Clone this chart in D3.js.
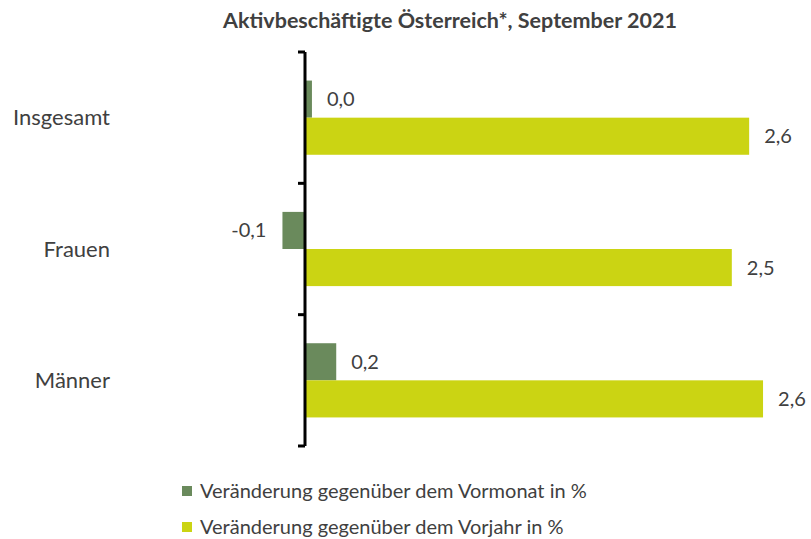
<!DOCTYPE html>
<html>
<head>
<meta charset="utf-8">
<script src="https://cdn.jsdelivr.net/npm/d3@7"></script>
<style>
  body { margin: 0; background: #fff; }
  text { font-family: Lato, "Open Sans", sans-serif; fill: #404040; }
</style>
</head>
<body>
<div id="chart"></div>
<script>
// Data
const categories = ["Insgesamt", "Frauen", "Männer"];
const seriesNames = ["Veränderung gegenüber dem Vormonat in %", "Veränderung gegenüber dem Vorjahr in %"];
const vormonat = [0.04, -0.13, 0.18];
const vorjahr = [2.56, 2.46, 2.64];
const seriesColors = ["#6a8a5c", "#cbd413"];

const width = 811, height = 539;

const svg = d3.select("#chart")
    .append("svg")
    .attr("width", width)
    .attr("height", height);

// build rows for the bars
const rows = categories.map((c, i) => ({cat: c, values: [vormonat[i], vorjahr[i]]}));

/* scales */
const xScale = d3.scaleLinear()
    .domain([-0.2, 2.8])
    .range([305 - 0.2 * 173.5, 305 + 2.8 * 173.5]);

const yScale = d3.scaleBand()
    .domain(categories)
    .range([52, 446])
    .paddingInner(0.435)
    .paddingOuter(0.2175);

const ySub = d3.scaleBand()
    .domain([0, 1])
    .range([0, yScale.bandwidth()]);

const fmt = v => d3.format(".1f")(v).replace(".", ",").replace("−", "-");

// Title
svg.append("text")
    .attr("x", 450)
    .attr("y", 28)
    .attr("text-anchor", "middle")
    .style("font-size", "21.5px")
    .style("font-weight", "bold")
    .text("Aktivbeschäftigte Österreich*, September 2021");

// bars
const groups = svg.append("g")
    .selectAll("g")
    .data(rows)
    .join("g")
    .attr("transform", d => `translate(0,${yScale(d.cat)})`);

groups.selectAll("rect")
    .data(d => d.values.map((v, j) => ({v, j})))
    .join("rect")
    .attr("x", d => xScale(Math.min(0, d.v)))
    .attr("y", d => ySub(d.j))
    .attr("width", d => Math.abs(xScale(d.v) - xScale(0)))
    .attr("height", ySub.bandwidth())
    .attr("fill", d => seriesColors[d.j]);

// value labels
groups.selectAll("text")
    .data(d => d.values.map((v, j) => ({v, j})))
    .join("text")
    .attr("x", d => d.v < 0 ? xScale(d.v) - 16 : xScale(d.v) + 15)
    .attr("y", d => ySub(d.j) + ySub.bandwidth() / 2)
    .attr("dy", "0.35em")
    .attr("text-anchor", d => d.v < 0 ? "end" : "start")
    .style("font-size", "20px")
    .text(d => fmt(d.v));

// category axis (ticks sit between the categories)
const boundaries = categories.map(c => yScale(c) - yScale.step() * yScale.paddingInner() / 2);
boundaries.push(yScale(categories[categories.length - 1]) + yScale.bandwidth() + yScale.step() * yScale.paddingInner() / 2);

const axis = svg.append("g");
axis.append("line")
    .attr("x1", xScale(0)).attr("x2", xScale(0))
    .attr("y1", boundaries[0]).attr("y2", boundaries[boundaries.length - 1])
    .attr("stroke", "#000")
    .attr("stroke-width", 3);
axis.selectAll("line.tick")
    .data(boundaries)
    .join("line")
    .attr("class", "tick")
    .attr("x1", xScale(0) - 7).attr("x2", xScale(0))
    .attr("y1", d => d).attr("y2", d => d)
    .attr("stroke", "#000")
    .attr("stroke-width", 3);

svg.append("g")
    .selectAll("text")
    .data(categories)
    .join("text")
    .attr("x", 110)
    .attr("y", d => yScale(d) + yScale.bandwidth() / 2)
    .attr("dy", "0.35em")
    .attr("text-anchor", "end")
    .style("font-size", "22px")
    .text(d => d);

// legend
const legend = svg.append("g")
    .selectAll("g")
    .data(seriesNames)
    .join("g")
    .attr("transform", (d, i) => `translate(182,${491 + i * 36})`);

legend.append("rect")
    .attr("x", 0)
    .attr("y", -5)
    .attr("width", 10)
    .attr("height", 10)
    .attr("fill", (d, i) => seriesColors[i]);

legend.append("text")
    .attr("x", 18)
    .attr("y", 0)
    .attr("dy", "0.35em")
    .style("font-size", "20px")
    .text(d => d);
</script>
</body>
</html>
